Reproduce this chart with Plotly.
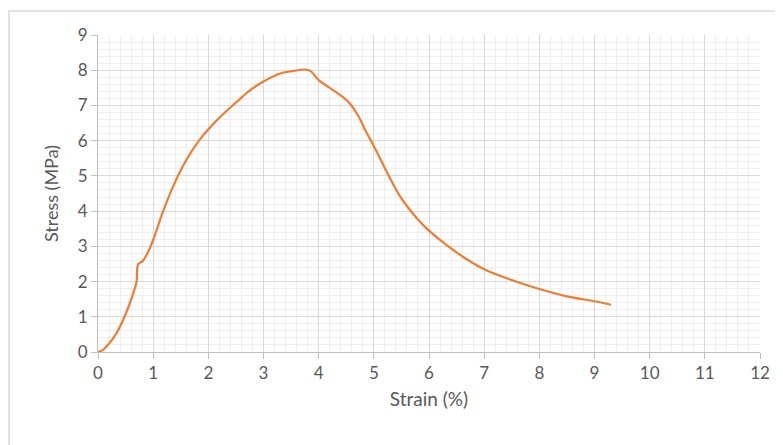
import plotly.graph_objects as go

strain = [0.0, 0.1, 0.19, 0.28, 0.37, 0.46, 0.55, 0.63, 0.70, 0.71, 0.73, 0.81, 0.90, 1.0, 1.17, 1.35,
          1.53, 1.71, 1.89, 2.01, 2.2, 2.37, 2.55, 2.73, 3.0, 3.33, 3.55, 3.75, 3.85, 4.0, 4.18, 4.36,
          4.54, 4.72, 4.86, 5.0, 5.21, 5.39, 5.5, 5.63, 5.78, 5.99, 6.35, 6.65, 7.0, 7.47, 8.0, 8.5,
          9.0, 9.3]
stress = [0.0, 0.07, 0.22, 0.40, 0.63, 0.93, 1.27, 1.62, 2.0, 2.35, 2.50, 2.58, 2.82, 3.18, 3.95, 4.66,
          5.25, 5.73, 6.12, 6.34, 6.65, 6.90, 7.15, 7.40, 7.68, 7.92, 7.98, 8.02, 7.98, 7.72, 7.52, 7.33,
          7.10, 6.70, 6.25, 5.85, 5.19, 4.65, 4.36, 4.08, 3.80, 3.46, 3.0, 2.67, 2.35, 2.06, 1.79, 1.58,
          1.44, 1.34]

x_ticks = list(range(0, 13))
y_ticks = list(range(0, 10))

gray = "#595959"
font = "Lato"

fig = go.Figure()
fig.add_trace(go.Scatter(x=strain, y=stress, mode="lines",
                         line=dict(color="#ED7D31", width=2.2, shape="spline", smoothing=0.8),
                         hoverinfo="x+y"))

fig.update_layout(
    width=775, height=437,
    margin=dict(l=90, r=23, t=27, b=93),
    paper_bgcolor="white", plot_bgcolor="white",
    showlegend=False,
    font=dict(family=font, color=gray, size=16),
    shapes=[dict(type="rect", xref="paper", yref="paper",
                 x0=-0.1344, y0=-0.5, x1=1.2, y1=1.0757,
                 line=dict(color="#d9d9d9", width=1.5), layer="below")],
)

fig.update_xaxes(
    range=[0, 12], tickvals=x_ticks, ticktext=[str(v) for v in x_ticks],
    showgrid=True, gridcolor="#d9d9d9", gridwidth=1,
    minor=dict(dtick=0.2, showgrid=True, gridcolor="#efefef", gridwidth=1),
    showline=True, linecolor="#bfbfbf", linewidth=1,
    ticks="outside", ticklen=6, tickcolor="#bfbfbf",
    tickfont=dict(size=17, color=gray, family=font),
    title=dict(text="Strain (%)", font=dict(size=19, color=gray, family=font), standoff=10),
    zeroline=False, mirror=False,
)
fig.update_yaxes(
    range=[0, 9], tickvals=y_ticks, ticktext=[str(v) for v in y_ticks],
    showgrid=True, gridcolor="#d9d9d9", gridwidth=1,
    minor=dict(dtick=0.2, showgrid=True, gridcolor="#efefef", gridwidth=1),
    showline=True, linecolor="#bfbfbf", linewidth=1,
    ticks="outside", ticklen=6, tickcolor="#bfbfbf",
    tickfont=dict(size=17, color=gray, family=font),
    title=dict(text="Stress (MPa)", font=dict(size=18, color=gray, family=font), standoff=14),
    zeroline=False,
)

fig.write_html("out.html")
